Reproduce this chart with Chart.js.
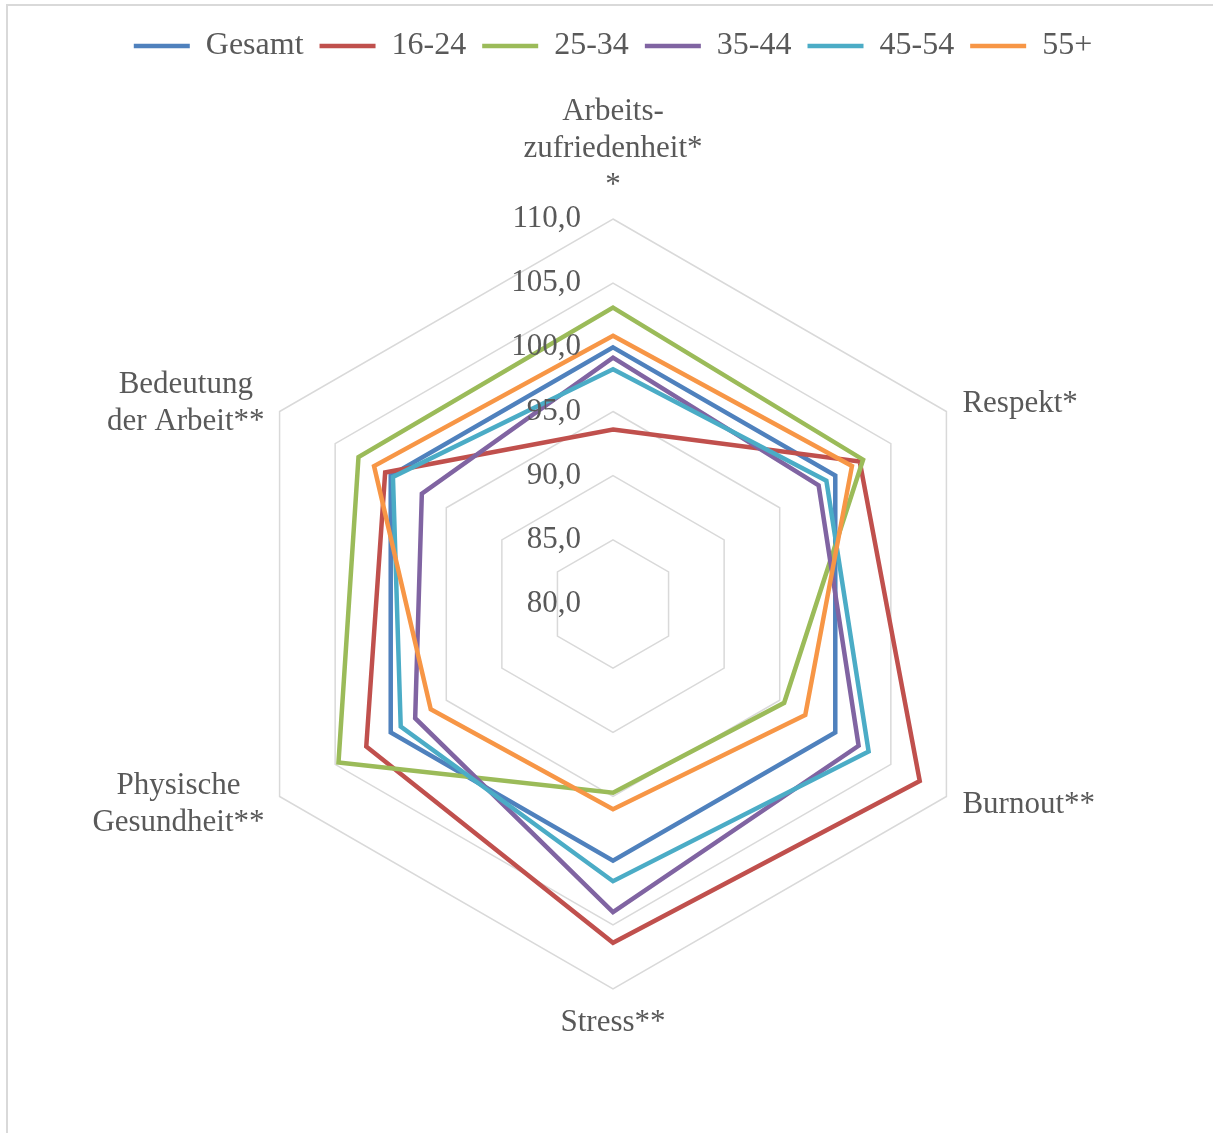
<!DOCTYPE html>
<html lang="de">
<head>
<meta charset="utf-8">
<title>Radar Altersgruppen</title>
<script src="https://cdn.jsdelivr.net/npm/chart.js@4.4.1/dist/chart.umd.min.js"></script>
<style>
  html, body { margin: 0; padding: 0; background: #fff; overflow: hidden; }
  #wrap { position: relative; width: 1213px; height: 1133px; }
  #frame { position: absolute; left: 6px; top: 4px; right: -10px; bottom: -10px;
           border-left: 2px solid #d9d9d9; border-top: 2px solid #d9d9d9; }
  canvas { position: absolute; left: 0; top: 0; }
</style>
</head>
<body>
<div id="wrap">
  <div id="frame"></div>
  <canvas id="radarChart" width="1213" height="1133"></canvas>
</div>
<script>
// Chart data
const categories = [
  ['Arbeits-', 'zufriedenheit*', '*'],
  'Respekt*',
  'Burnout**',
  'Stress**',
  ['Physische', 'Gesundheit**'],
  ['Bedeutung', 'der Arbeit**']
];
const seriesNames = ['Gesamt', '16-24', '25-34', '35-44', '45-54', '55+'];
const gesamt  = [100.0, 100.0, 100.0, 100.0, 100.0, 100.0];
const age1624 = [93.6, 102.2, 107.6, 106.4, 102.2, 100.5];
const age2534 = [103.1, 102.5, 95.4, 94.7, 104.7, 102.9];
const age3544 = [99.2, 98.5, 102.1, 104.0, 97.8, 97.2];
const age4554 = [98.3, 99.2, 103.0, 101.6, 99.1, 99.8];
const age55   = [100.9, 101.5, 97.3, 96.0, 96.4, 101.5];
const seriesValues = [gesamt, age1624, age2534, age3544, age4554, age55];
const scaleMin = 80;
const scaleMax = 110;
const scaleStep = 5;

const colors = ['#4f81bd', '#c0504d', '#9bbb59', '#8064a2', '#4bacc6', '#f79646'];
const FONT = '"Liberation Serif", "Times New Roman", serif';
const TEXT_COLOR = '#595959';

// Push the plot down below the legend
const legendSpacer = {
  id: 'legendSpacer',
  beforeInit(chart) {
    const fitLegend = chart.legend.fit;
    chart.legend.fit = function () {
      fitLegend.call(this);
      this.height += 147;
    };
  }
};

// Tick labels sit left of the vertical axis, like in Excel
const tickLabels = {
  id: 'tickLabels',
  afterDatasetsDraw(chart) {
    const scale = chart.scales.r;
    const ctx = chart.ctx;
    ctx.save();
    ctx.font = '31px ' + FONT;
    ctx.fillStyle = TEXT_COLOR;
    ctx.textAlign = 'right';
    ctx.textBaseline = 'middle';
    scale.ticks.forEach(t => {
      const y = scale.yCenter - scale.getDistanceFromCenterForValue(t.value);
      ctx.fillText(t.value.toFixed(1).replace('.', ','), scale.xCenter - 32, y);
    });
    ctx.restore();
  }
};

// Category labels around the outer ring
const axisLabels = {
  id: 'axisLabels',
  afterDraw(chart) {
    const scale = chart.scales.r;
    const ctx = chart.ctx;
    const lineH = 37;
    ctx.save();
    ctx.font = '31px ' + FONT;
    ctx.fillStyle = TEXT_COLOR;
    ctx.textBaseline = 'middle';
    categories.forEach((label, i) => {
      const lines = Array.isArray(label) ? label : [label];
      const p = scale.getPointPosition(i, scale.drawingArea);
      const dx = p.x - scale.xCenter;
      const dy = p.y - scale.yCenter;
      let x, firstY;
      if (Math.abs(dx) < 1) {
        ctx.textAlign = 'center';
        x = p.x;
        firstY = dy < 0 ? p.y - 33 - (lines.length - 1) * lineH : p.y + 34;
      } else {
        const mid = p.y + (dy < 0 ? -8 : 8);
        firstY = mid - (lines.length - 1) * lineH / 2;
        if (dx > 0) {
          ctx.textAlign = 'left';
          x = p.x + 16;
        } else {
          ctx.textAlign = 'center';
          const maxW = Math.max(...lines.map(l => ctx.measureText(l).width));
          x = p.x - 15 - maxW / 2;
        }
      }
      lines.forEach((l, k) => ctx.fillText(l, x, firstY + k * lineH));
    });
    ctx.restore();
  }
};

const datasets = seriesNames.map((name, i) => ({
  label: name,
  data: seriesValues[i],
  borderColor: colors[i],
  backgroundColor: colors[i],
  borderWidth: 4.5,
  fill: false,
  tension: 0,
  pointRadius: 0,
  pointHoverRadius: 0,
  pointBorderWidth: 4.5,
  pointBorderColor: colors[i],
  pointBackgroundColor: colors[i],
  // later series on top, as in the original
  order: seriesNames.length - 1 - i
}));

new Chart(document.getElementById('radarChart').getContext('2d'), {
  type: 'radar',
  data: {
    labels: categories,
    datasets: datasets
  },
  options: {
    responsive: false,
    animation: false,
    layout: {
      padding: { top: 14, left: 13, right: 0, bottom: 144 }
    },
    plugins: {
      tooltip: { enabled: false },
      legend: {
        position: 'top',
        labels: {
          usePointStyle: true,
          pointStyle: 'line',
          pointStyleWidth: 56,
          padding: 16,
          color: TEXT_COLOR,
          font: { family: FONT, size: 32 },
          sort: (a, b) => a.datasetIndex - b.datasetIndex
        }
      }
    },
    scales: {
      r: {
        min: scaleMin,
        max: scaleMax,
        ticks: { stepSize: scaleStep, display: false },
        grid: { color: '#d9d9d9', lineWidth: 1.5 },
        angleLines: { display: false },
        pointLabels: { display: false }
      }
    }
  },
  plugins: [legendSpacer, tickLabels, axisLabels]
});
</script>
</body>
</html>
